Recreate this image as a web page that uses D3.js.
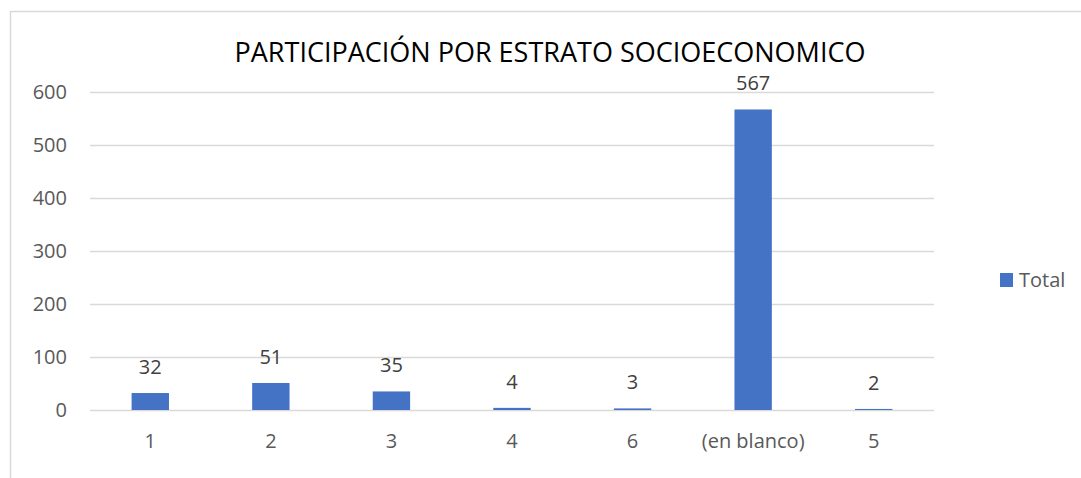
<!DOCTYPE html>
<html lang="es">
<head>
<meta charset="utf-8">
<title>Participación por estrato</title>
<script src="https://cdn.jsdelivr.net/npm/d3@7"></script>
<style>
  body { margin: 0; background: #fff; }
  text { font-family: "Open Sans", "DejaVu Sans", sans-serif; }
  .grid line { stroke: #d9d9d9; stroke-width: 1.5px; }
</style>
</head>
<body>
<svg width="1081" height="478"></svg>
<script>
// data
var categories = ["1", "2", "3", "4", "6", "(en blanco)", "5"];
var totals = [32, 51, 35, 4, 3, 567, 2];
var yTicks = [0, 100, 200, 300, 400, 500, 600];
var seriesName = "Total";
var chartTitle = "PARTICIPACIÓN POR ESTRATO SOCIOECONOMICO";

var svg = d3.select("svg");
var margin = {left: 90, right: 1081 - 934, top: 92, bottom: 478 - 410};
var width = 1081, height = 478;

// chart frame
svg.append("rect")
  .attr("x", 10.5).attr("y", 11.5)
  .attr("width", 1200).attr("height", 600)
  .attr("fill", "#fff")
  .attr("stroke", "#d9d9d9")
  .attr("stroke-width", 1.5);

var x = d3.scaleBand()
  .domain(categories)
  .range([margin.left, width - margin.right])
  .paddingInner(0.69)
  .paddingOuter(0.345);

var y = d3.scaleLinear()
  .domain([0, 600])
  .range([height - margin.bottom, margin.top]);

// gridlines
svg.append("g")
  .attr("class", "grid")
  .selectAll("line")
  .data(yTicks)
  .enter().append("line")
  .attr("x1", margin.left)
  .attr("x2", width - margin.right)
  .attr("y1", function(d) { return Math.round(y(d)) + 0.5; })
  .attr("y2", function(d) { return Math.round(y(d)) + 0.5; });

// y axis labels
var yAxis = d3.axisLeft(y).tickValues(yTicks).tickSize(0).tickPadding(0);
svg.append("g")
  .attr("transform", "translate(67,0)")
  .call(yAxis)
  .call(function(g) { g.select(".domain").remove(); })
  .selectAll("text")
  .attr("font-size", "20px")
  .attr("fill", "#595959")
  .attr("font-family", "Open Sans");

// bars
svg.append("g")
  .selectAll("rect")
  .data(totals)
  .enter().append("rect")
  .attr("x", function(d, i) { return x(categories[i]); })
  .attr("y", function(d) { return y(d); })
  .attr("width", x.bandwidth())
  .attr("height", function(d) { return y(0) - y(d); })
  .attr("fill", "#4472c4");

// value labels
svg.append("g")
  .selectAll("text")
  .data(totals)
  .enter().append("text")
  .attr("x", function(d, i) { return x(categories[i]) + x.bandwidth() / 2; })
  .attr("y", function(d) { return y(d) - 19; })
  .attr("text-anchor", "middle")
  .attr("font-size", "20px")
  .attr("fill", "#404040")
  .text(function(d) { return d; });

// x axis labels
var xAxis = d3.axisBottom(x).tickSize(0).tickPadding(0);
svg.append("g")
  .attr("transform", "translate(0," + (y(0) + 24) + ")")
  .call(xAxis)
  .call(function(g) { g.select(".domain").remove(); })
  .selectAll("text")
  .attr("font-size", "20px")
  .attr("fill", "#595959")
  .attr("font-family", "Open Sans");

// title
svg.append("text")
  .attr("x", 550)
  .attr("y", 62)
  .attr("text-anchor", "middle")
  .attr("font-size", "27px")
  .attr("fill", "#000")
  .text(chartTitle);

// legend
var legend = svg.append("g").attr("transform", "translate(1000,273)");
legend.append("rect")
  .attr("width", 13).attr("height", 14)
  .attr("fill", "#4472c4");
legend.append("text")
  .attr("x", 19).attr("y", 14)
  .attr("font-size", "20px")
  .attr("fill", "#595959")
  .text(seriesName);
</script>
</body>
</html>
